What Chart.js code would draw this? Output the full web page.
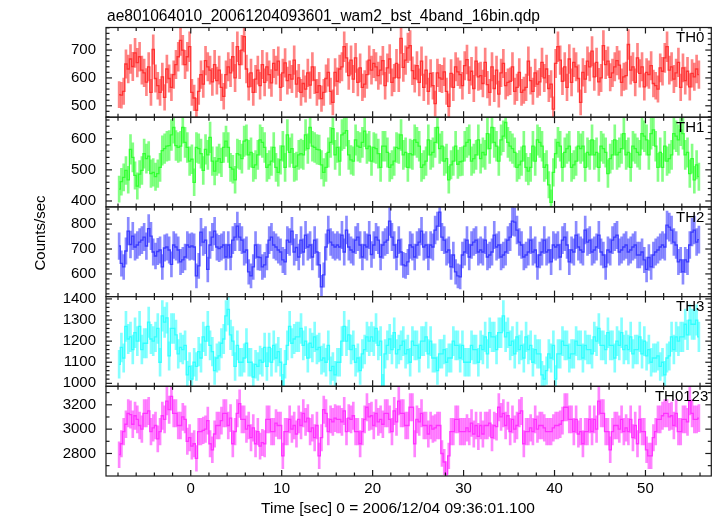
<!DOCTYPE html>
<html>
<head>
<meta charset="utf-8">
<script src="https://cdn.jsdelivr.net/npm/chart.js@4.4.1/dist/chart.umd.min.js"></script>
<style>
  html, body { margin: 0; padding: 0; background: #fff; }
  #wrap { position: relative; width: 717px; height: 516px; }
</style>
</head>
<body>
<div id="wrap"><canvas id="qdp" width="717" height="516"></canvas></div>
<script>
const TITLE = "ae801064010_20061204093601_wam2_bst_4band_16bin.qdp";
const X_LABEL = "Time [sec] 0 = 2006/12/04 09:36:01.100";
const Y_LABEL = "Counts/sec";

// 16 x 1/64 s bins = 0.25 s, first bin centre
const T_START = -7.875;
const BIN = 0.25;

const bands = ["TH0", "TH1", "TH2", "TH3", "TH0123"];

// count rates, 16 bins (4 s) per row
const th0 = [
  540,538,552,650,632,668,641,690,655,676,628,618,585,640,548,702,
  598,572,548,604,530,632,598,566,612,648,676,735,700,648,676,712,
  548,528,484,552,612,578,662,640,628,586,648,590,628,566,534,612,
  640,618,676,600,712,648,700,748,632,568,618,548,596,628,572,648,
  584,640,612,582,652,628,660,566,618,654,590,612,596,664,578,600,
  548,580,560,618,574,640,592,548,572,526,548,598,620,552,512,620,
  588,632,640,712,672,608,664,596,672,584,636,566,578,612,664,628,
  652,640,608,628,662,572,636,668,584,600,652,600,742,638,664,708,
  716,626,598,644,584,660,566,628,552,616,572,508,618,600,596,622,
  552,498,616,566,640,622,612,572,644,666,592,624,562,660,604,608,
  580,656,576,548,640,562,628,542,618,652,572,584,588,640,552,566,
  620,548,556,566,660,590,552,618,578,586,656,600,632,562,578,488,
  652,712,664,588,640,566,668,584,656,640,598,512,620,596,660,640,
  696,604,656,586,600,716,648,660,602,618,640,662,646,584,604,608,
  720,628,640,584,672,616,640,568,620,612,644,580,572,560,636,624,
  672,712,628,640,596,618,656,566,636,590,624,568,616,604,632,612
];
const th1 = [
  438,462,476,498,468,566,540,482,448,486,498,552,536,544,488,492,
  478,488,508,562,568,576,578,612,636,578,572,576,636,588,572,528,
  534,460,572,568,552,498,566,548,604,528,496,528,536,524,572,592,
  572,508,502,468,552,548,536,592,596,548,556,508,516,548,596,588,
  572,508,516,528,572,508,492,532,576,508,612,556,568,508,512,548,
  552,548,612,568,636,576,572,566,564,516,492,508,556,588,632,548,
  572,528,612,618,626,548,532,528,596,576,572,588,624,568,576,528,
  572,568,552,508,576,576,556,508,516,528,572,568,612,548,556,508,
  552,548,596,588,576,508,516,528,596,548,556,588,636,568,576,528,
  536,468,516,528,576,518,526,528,576,588,596,528,536,548,596,536,
  556,548,616,568,636,588,576,528,596,608,652,588,576,568,556,508,
  516,528,576,508,496,508,576,528,596,588,576,508,516,452,396,492,
  552,588,576,508,556,568,576,508,516,528,576,568,576,508,556,548,
  596,548,556,508,576,568,556,488,536,548,596,548,556,568,616,548,
  556,508,576,568,556,548,616,608,596,548,616,628,576,508,556,508,
  576,528,536,548,616,608,596,628,616,548,556,488,536,468,516,478
];
const th2 = [
  712,642,628,692,772,718,752,708,716,728,736,748,712,782,752,688,
  672,690,696,628,704,708,696,638,716,708,696,648,656,668,716,708,
  712,708,592,632,768,728,736,618,716,748,772,708,702,708,716,668,
  716,668,736,748,792,748,736,688,696,608,592,628,716,668,666,628,
  636,668,736,748,716,708,696,688,656,648,736,728,772,688,706,668,
  736,688,756,708,716,668,736,688,636,548,596,708,776,728,716,708,
  716,708,756,688,776,708,696,688,736,748,716,668,716,708,756,678,
  716,748,736,668,716,728,736,812,748,716,668,736,688,636,632,648,
  716,708,668,716,728,772,708,716,668,716,708,776,792,848,748,736,
  688,696,628,676,608,592,588,676,688,736,668,716,728,736,688,696,
  688,736,668,676,688,756,708,716,668,676,688,736,748,812,808,776,
  728,716,668,676,688,736,688,696,628,676,688,736,688,696,648,716,
  708,716,668,736,748,716,648,696,688,756,708,696,688,776,728,736,
  688,696,708,756,688,676,628,696,688,736,748,756,688,696,708,716,
  688,696,708,716,676,676,688,656,618,666,628,676,688,696,708,716,
  708,796,788,776,728,716,648,656,608,656,648,716,768,776,728,738
];
const th3 = [
  1090,1170,1120,1270,1210,1220,1160,1240,1200,1270,1160,1190,1190,1290,1210,1200,
  1220,1260,1100,1320,1290,1310,1130,1260,1260,1230,1140,1170,1160,1180,1040,1080,
  1020,1100,1080,1150,1120,1220,1200,1270,1180,1150,1060,1120,1130,1190,1210,1320,
  1350,1230,1200,1080,1180,1100,1100,1120,1190,1100,1100,1030,1090,1080,1110,1100,
  1170,1080,1170,1100,1180,1120,1150,1100,980,1090,1180,1270,1190,1210,1220,1220,
  1260,1180,1200,1120,1190,1170,1220,1160,1170,1110,1120,1100,1180,1060,1080,1040,
  1100,1100,1200,1270,1200,1230,1160,1180,1100,1120,1060,1140,1160,1220,1200,1220,
  1200,1260,1180,1200,980,1140,1180,1210,1160,1240,1140,1160,1180,1200,1140,1160,
  1100,1200,1180,1180,1120,1200,1200,1220,1140,1200,1120,1120,1060,1140,1140,1160,
  1100,1120,1120,1200,1180,1180,1120,1180,1100,1100,1100,1180,1160,1160,1100,1180,
  1160,1220,1140,1240,1220,1220,1160,1240,1240,1320,1220,1240,1180,1200,1140,1220,
  1160,1180,1120,1220,1160,1180,1100,1160,1140,1140,1040,1020,1060,1140,1120,1180,
  1020,1140,1140,1200,1180,1180,1120,1140,1140,1200,1180,1180,1120,1180,1160,1160,
  1140,1220,1200,1260,1180,1180,1160,1240,1180,1180,1120,1200,1180,1240,1160,1180,
  1160,1220,1140,1160,1160,1220,1140,1200,1130,1160,1100,1120,1120,1130,1080,1100,
  1040,1120,1130,1220,1160,1220,1200,1220,1220,1280,1230,1300,1280,1280,1300,1220
];
const th0123 = [
  2790,2880,2980,3040,3130,3120,3040,3110,3080,3030,3000,3130,3130,3150,2980,3010,
  3030,2920,2980,3110,3080,3230,3160,3270,3130,3130,3030,3030,3100,3080,2900,2930,
  2860,2880,2760,2980,2980,2990,3000,3070,2880,2830,2960,3030,3030,3070,3130,3130,
  3030,3090,2880,2980,3130,3210,3080,3080,3000,3030,2930,3010,2880,2980,2860,2890,
  2880,3080,3080,2980,2980,3050,3030,3030,2780,2980,2980,3080,3000,3030,2960,3080,
  3030,3130,3060,3090,2980,3010,2930,3030,2780,2930,3160,3130,2980,3080,3060,3090,
  3080,3080,3060,3150,2980,3090,3080,3110,2980,2980,2880,2980,3080,3180,3100,3110,
  3030,3130,3060,3080,3040,3130,3130,3080,2980,3150,3060,3230,3130,3130,3030,3030,
  3180,3180,2880,3080,3060,3130,3030,3030,2960,3030,3000,3010,3030,3030,2800,2730,
  2630,2780,2980,2980,3080,3080,2980,2980,2980,3010,2980,3050,2960,3030,2940,3030,
  2960,3030,3030,3050,2930,3030,3020,3180,3100,3130,3030,3110,2980,3080,3000,3030,
  3130,3150,2880,2980,2980,3010,2980,3080,3000,3030,3030,3010,2980,2980,2980,3010,
  3030,3030,3040,3070,3180,3180,3080,3080,2980,3080,2960,2980,2880,2980,2980,3080,
  2980,3080,3000,3230,3130,3130,2980,2980,2830,2980,3030,3030,3000,3080,2980,3010,
  2980,3080,2930,3030,2880,3080,2980,2980,2830,2780,2780,2930,2980,3080,3080,3110,
  3130,3130,3100,3110,3030,3130,2980,2980,3080,3080,3060,3230,3130,3080,3080,3090
];

const series = [th0, th1, th2, th3, th0123];

// axis ranges per panel (top panel first)
const xMin = -9.32, xMax = 57.24;
const yMin = [459, 381, 509, 986, 2615];
const yMax = [781, 669, 869, 1411, 3352];
const yStep = [100, 100, 100, 100, 200];
const yMinor = [20, 20, 20, 20, 100];

const colors = ["255,50,50", "50,255,50", "60,60,255", "50,255,255", "255,50,255"];
const FONT = "'Liberation Sans', Arial, sans-serif";

function binTime(i) { return T_START + i * BIN; }
// poisson error of a rate in a 0.25 s bin
function rateErr(v) { return Math.sqrt(v / BIN); }

const datasets = [];
series.forEach(function(vals, k) {
  datasets.push({
    type: 'line',
    yAxisID: 'y' + k,
    order: 0,
    data: vals.map(function(v, i) { return { x: binTime(i), y: v }; }),
    borderColor: 'rgb(' + colors[k] + ')',
    borderWidth: 1.3,
    stepped: 'middle',
    pointRadius: 0,
    fill: false
  });
  datasets.push({
    type: 'bar',
    yAxisID: 'y' + k,
    order: 1,
    grouped: false,
    barThickness: 2,
    data: vals.map(function(v, i) { return { x: binTime(i), y: [v - rateErr(v), v + rateErr(v)] }; }),
    backgroundColor: 'rgba(' + colors[k] + ',0.6)',
    borderWidth: 0
  });
});

const scales = {
  x: {
    type: 'linear', position: 'bottom', min: xMin, max: xMax, offset: false,
    ticks: { stepSize: 10, includeBounds: false, maxRotation: 0, color: '#000', padding: 4,
             font: { family: FONT, size: 15 } },
    grid: { display: false, drawTicks: false, offset: false },
    border: { display: false },
    afterFit: function(s) { s.height = 40; }
  }
};
// stacked left axes are laid out from the last one added, so add bottom panel first
for (let k = series.length - 1; k >= 0; k--) {
  scales['y' + k] = {
    type: 'linear', position: 'left', stack: 'qdp', stackWeight: 1,
    min: yMin[k], max: yMax[k],
    ticks: { stepSize: yStep[k], includeBounds: false, autoSkip: false, color: '#000', padding: 10,
             font: { family: FONT, size: 15 },
             callback: function(v) { return String(v); } },
    grid: { display: false, drawTicks: false },
    border: { display: false },
    afterFit: function(s) { s.width = 106; }
  };
}

function line(ctx, x1, y1, x2, y2) {
  ctx.beginPath();
  ctx.moveTo(x1, y1);
  ctx.lineTo(x2, y2);
  ctx.stroke();
}

const qdpFrame = {
  id: 'qdpFrame',
  beforeDatasetDraw: function(chart, args) {
    const ys = chart.scales[args.meta.yAxisID];
    const a = chart.chartArea;
    const ctx = chart.ctx;
    ctx.save();
    ctx.beginPath();
    ctx.rect(a.left, ys.top, a.right - a.left, ys.bottom - ys.top);
    ctx.clip();
  },
  afterDatasetDraw: function(chart) {
    chart.ctx.restore();
  },
  afterDraw: function(chart) {
    const ctx = chart.ctx;
    const a = chart.chartArea;
    const xs = chart.scales.x;
    ctx.save();
    ctx.strokeStyle = '#1a1a1a';
    ctx.lineWidth = 1.2;
    for (let k = 0; k < series.length; k++) {
      const ys = chart.scales['y' + k];
      ctx.strokeRect(a.left, ys.top, a.right - a.left, ys.bottom - ys.top);

      // x ticks, top and bottom of every panel
      for (let v = Math.ceil(xMin / 2) * 2; v <= xMax; v += 2) {
        const px = xs.getPixelForValue(v);
        const len = (v % 10 === 0) ? 6 : 3.5;
        line(ctx, px, ys.top, px, ys.top + len);
        line(ctx, px, ys.bottom, px, ys.bottom - len);
      }
      // y ticks, left and right
      for (let v = Math.ceil(yMin[k] / yMinor[k]) * yMinor[k]; v <= yMax[k]; v += yMinor[k]) {
        const py = ys.getPixelForValue(v);
        const len = (v % yStep[k] === 0) ? 6 : 3.5;
        line(ctx, a.left, py, a.left + len, py);
        line(ctx, a.right, py, a.right - len, py);
      }

      ctx.fillStyle = '#000';
      ctx.font = '15px ' + FONT;
      ctx.textAlign = 'right';
      ctx.textBaseline = 'top';
      ctx.fillText(bands[k], k === 4 ? a.right - 3 : a.right - 7, ys.top + 3);
    }

    ctx.fillStyle = '#000';
    ctx.font = '16px ' + FONT;
    ctx.textAlign = 'left';
    ctx.textBaseline = 'alphabetic';
    ctx.fillText(TITLE, a.left + 1, 21, 433);

    ctx.font = '15.5px ' + FONT;
    ctx.textAlign = 'center';
    ctx.fillText(X_LABEL, 398, 513);

    ctx.font = '15px ' + FONT;
    ctx.translate(45, 233);
    ctx.rotate(-Math.PI / 2);
    ctx.fillText(Y_LABEL, 0, 0);
    ctx.restore();
  }
};

new Chart(document.getElementById('qdp'), {
  data: { datasets: datasets },
  options: {
    responsive: false,
    animation: false,
    events: [],
    layout: { padding: { top: 27.5, right: 5.7, bottom: 0, left: 0 } },
    plugins: { legend: { display: false }, tooltip: { enabled: false } },
    scales: scales
  },
  plugins: [qdpFrame]
});
</script>
</body>
</html>
